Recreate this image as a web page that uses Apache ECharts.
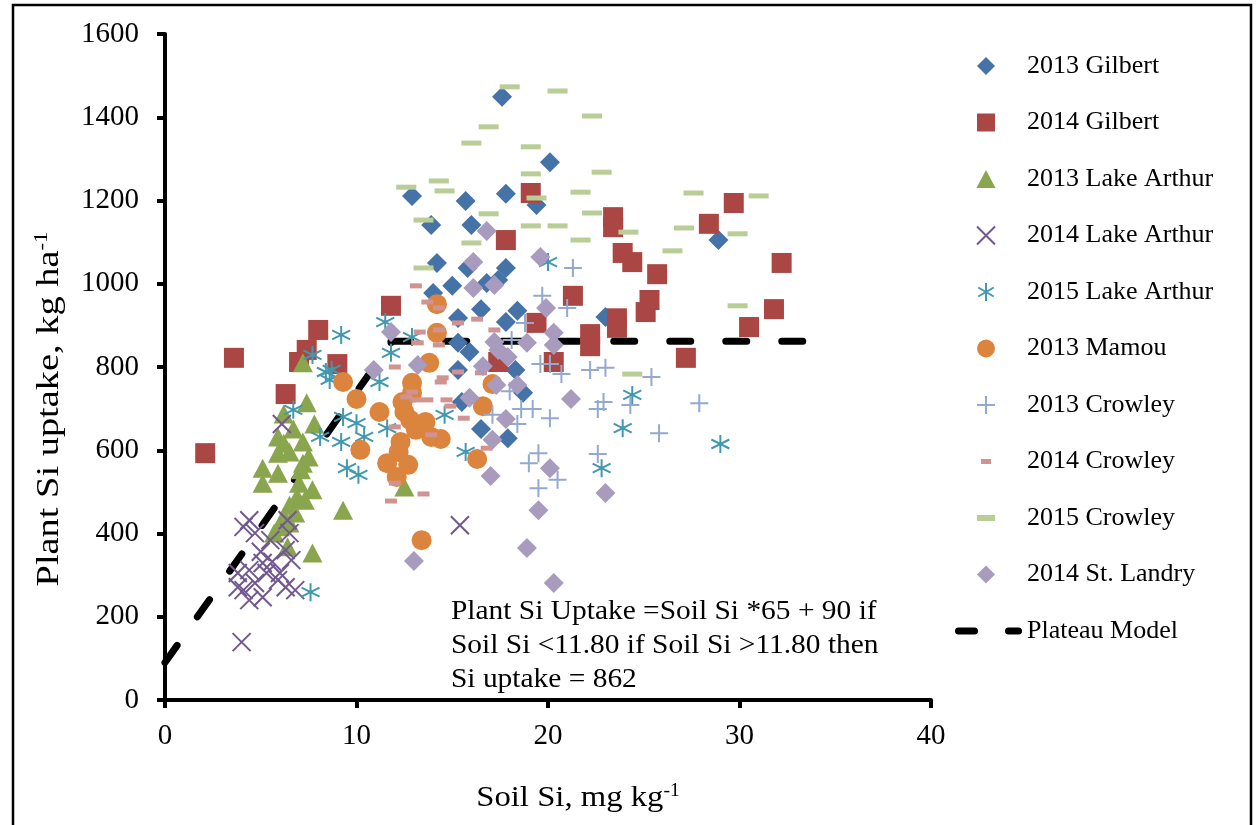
<!DOCTYPE html>
<html>
<head>
<meta charset="utf-8">
<script src="https://cdn.jsdelivr.net/npm/echarts@6/dist/echarts.min.js"></script>
<style>
  html, body { margin: 0; padding: 0; background: #fff; }
  #main { width: 1257px; height: 825px; }
</style>
</head>
<body>
<div id="main"></div>
<script>
// [soil Si (mg/kg), plant Si uptake (kg/ha)]
var gilbert2013 = [[17.6,1449],[20.1,1292],[12.9,1211],[15.7,1199],[17.8,1216],[19.4,1189],[13.9,1141],[16.0,1141],
  [14.2,1050],[15.8,1038],[17.8,1038],[15.0,995],[14.0,978],[16.8,1002],[17.4,1009],[16.5,939],[15.3,918],[17.8,908],
  [18.4,935],[15.3,858],[15.9,836],[15.3,793],[18.3,793],[18.7,738],[15.5,716],[16.5,651],[17.9,629],[23.0,920],[28.9,1105]];
var gilbert2014 = [[2.1,593],[3.6,822],[6.3,735],[7.0,812],[7.4,841],[8.0,889],[9.0,807],[11.8,947],[19.1,1218],
  [17.8,1105],[19.4,906],[21.3,971],[22.2,879],[22.2,850],[20.3,812],[17.4,812],[23.4,1160],[23.4,1136],[23.9,1074],
  [24.4,1052],[25.7,1023],[25.3,961],[25.1,932],[23.6,917],[23.6,894],[29.7,1194],[28.4,1144],[32.2,1050],[31.8,939],
  [30.5,896],[27.2,822]];
var lakeArthur2013 = [[7.2,810],[7.4,714],[6.2,687],[7.8,663],[6.7,651],[5.9,632],[6.2,617],[7.2,620],[5.9,593],
  [6.5,596],[7.2,569],[7.5,584],[5.1,557],[5.9,545],[5.1,521],[7.0,521],[7.7,505],[6.9,488],[7.3,480],[6.5,468],
  [6.2,440],[6.5,425],[6.0,416],[5.7,401],[6.4,368],[7.7,353],[9.3,456],[12.5,512],[7.1,553],[6.8,449]];
var lakeArthur2014 = [[6.1,663],[4.4,432],[4.1,416],[4.7,401],[6.4,432],[6.5,401],[5.5,384],[6.3,360],[5.0,356],
  [5.1,329],[3.8,305],[4.4,312],[5.3,305],[6.0,305],[3.8,271],[4.7,281],[6.3,271],[6.8,264],[5.1,247],[4.4,240],
  [4.1,264],[5.9,288],[5.6,332],[4.0,139],[15.4,420],[6.6,336]];
var lakeArthur2015 = [[9.2,877],[7.7,829],[8.4,788],[8.6,769],[6.7,697],[8.1,632],[9.3,680],[9.2,620],[10.0,665],
  [10.4,632],[9.5,557],[10.1,541],[7.6,259],[11.5,908],[11.8,834],[11.2,764],[12.9,872],[11.6,653],[14.6,685],
  [15.7,596],[20.0,1052],[24.4,733],[23.9,653],[22.8,557],[29.0,615],[8.7,793]];
var mamou2013 = [[14.2,951],[14.2,882],[13.8,810],[9.3,764],[10.0,723],[11.2,692],[12.9,762],[12.9,738],[12.4,716],
  [12.5,692],[13.6,668],[13.1,649],[13.9,632],[14.4,627],[12.3,620],[10.2,601],[12.2,596],[11.6,569],[12.7,565],
  [12.1,536],[16.3,579],[17.1,759],[16.6,706],[13.4,384],[12.8,673]];
var crowley2013 = [[21.3,1038],[19.7,971],[21.0,942],[18.8,906],[18.1,865],[19.6,807],[20.1,807],[20.7,783],
  [22.2,793],[23.0,798],[18.0,742],[17.1,685],[18.6,699],[19.2,699],[20.1,677],[18.4,663],[22.6,699],[19.5,593],
  [19.0,569],[20.5,529],[19.5,509],[22.6,591],[25.4,776],[24.3,709],[22.9,716],[27.9,713],[25.8,641]];
var crowley2014 = [[13.1,995],[13.7,956],[14.3,942],[16.3,915],[15.3,906],[17.2,889],[13.3,884],[14.3,889],
  [13.2,858],[14.3,853],[12.0,800],[14.5,774],[14.4,764],[12.9,740],[12.6,728],[13.1,721],[14.7,721],[14.9,706],
  [15.6,677],[12.0,656],[13.9,637],[16.8,605],[12.0,521],[11.8,478],[13.5,495],[16.5,786],[15.3,788],[13.7,721]];
var crowley2015 = [[18.0,1473],[20.5,1463],[22.3,1403],[16.9,1377],[16.0,1338],[19.1,1329],[22.8,1268],[19.1,1264],
  [12.6,1232],[14.3,1247],[14.6,1223],[19.4,1206],[21.7,1220],[16.9,1168],[22.3,1170],[13.5,1153],[19.1,1139],
  [20.5,1139],[24.2,1124],[16.0,1098],[21.7,1105],[13.5,1038],[27.6,1218],[31.0,1211],[27.1,1134],[29.9,1120],
  [26.5,1079],[29.9,947],[24.4,783]];
var stLandry2014 = [[16.8,1127],[19.6,1064],[16.1,1052],[16.1,990],[17.2,997],[19.9,942],[11.8,884],[10.9,793],
  [13.2,805],[15.9,726],[17.2,860],[18.9,858],[20.3,882],[20.3,853],[17.4,841],[17.9,824],[16.6,802],[17.3,757],
  [18.4,757],[17.8,675],[17.1,625],[17.0,538],[20.1,557],[21.2,723],[19.5,456],[23.0,497],[18.9,365],[20.3,281],[13.0,334]];
// plateau model: uptake = 65*Si + 90 below 11.80, 862 above
var plateauX = [0, 11.8, 11.8, 33.6];
var plateauY = [90, 857, 862, 862];

var xTicks = [0, 10, 20, 30, 40];
var yTicks = [0, 200, 400, 600, 800, 1000, 1200, 1400, 1600];

var FONT = '"Liberation Serif", "Times New Roman", serif';

var chart = echarts.init(document.getElementById('main'), null, { renderer: 'canvas' });

function pts(name, data, symbol, size, color, extra) {
  var s = {
    name: name,
    type: 'scatter',
    data: data,
    symbol: symbol,
    symbolSize: size,
    itemStyle: { color: color, opacity: 1 },
    emphasis: { disabled: true }
  };
  if (extra) s.itemStyle = Object.assign(s.itemStyle, extra);
  return s;
}

var xPath = 'path://M0,0L10,10M10,0L0,10';
var starPath = 'path://M5,0L5,10M0.7,2.5L9.3,7.5M0.7,7.5L9.3,2.5';
var plusPath = 'path://M5,0L5,10M0,5L10,5';

var series = [
  {
    name: 'Plateau Model',
    type: 'line',
    data: plateauX.map(function (x, i) { return [x, plateauY[i]]; }),
    symbol: 'none',
    showSymbol: false,
    lineStyle: { color: '#000', width: 7, type: [21, 35], cap: 'round', join: 'round' },
    itemStyle: { color: '#000' },
    emphasis: { disabled: true },
    z: 1
  },
  pts('2013 Gilbert', gilbert2013, 'diamond', 20, '#4572A7'),
  pts('2014 Gilbert', gilbert2014, 'rect', 20, '#AA4643'),
  pts('2013 Lake Arthur', lakeArthur2013, 'triangle', [20, 19], '#89A54E'),
  pts('2014 Lake Arthur', lakeArthur2014, xPath, 18, '#71588F', { borderColor: '#71588F', borderWidth: 2 }),
  pts('2015 Lake Arthur', lakeArthur2015, starPath, 18, '#4198AF', { borderColor: '#4198AF', borderWidth: 2 }),
  pts('2013 Mamou', mamou2013, 'circle', 20, '#DB843D'),
  pts('2013 Crowley', crowley2013, plusPath, 18, '#93A9CF', { borderColor: '#93A9CF', borderWidth: 2 }),
  pts('2014 Crowley', crowley2014, 'rect', [12, 5], '#D19392'),
  pts('2015 Crowley', crowley2015, 'rect', [20, 5], '#B9CD96'),
  pts('2014 St. Landry', stLandry2014, 'diamond', 20, '#A99BBD')
];

var legendNames = ['2013 Gilbert', '2014 Gilbert', '2013 Lake Arthur', '2014 Lake Arthur', '2015 Lake Arthur',
  '2013 Mamou', '2013 Crowley', '2014 Crowley', '2015 Crowley', '2014 St. Landry', 'Plateau Model'];
var legendIcons = {
  '2013 Gilbert': 'path://M9,0L18,9L9,18L0,9Z',
  '2014 Gilbert': 'path://M0,0h18v18h-18z',
  '2013 Lake Arthur': 'path://M9,0L18,17L0,17Z',
  '2013 Mamou': 'path://M0,9a9,9 0 1,0 18,0a9,9 0 1,0 -18,0z',
  '2014 Crowley': 'path://M0,0M18,18M4,6.5h10v5h-10z',
  '2015 Crowley': 'path://M0,0M18,18M0,6h18v6h-18z',
  '2014 St. Landry': 'path://M9,0L18,9L9,18L0,9Z',
  'Plateau Model': 'path://M0,0M72,18M8.5,5.5h16a3.5,3.5 0 0,1 0,7h-16a3.5,3.5 0 0,1 0,-7zM58.5,5.5h10a3.5,3.5 0 0,1 0,7h-10a3.5,3.5 0 0,1 0,-7z'
};

var option = {
  animation: false,
  textStyle: { fontFamily: FONT, color: '#000' },
  grid: { left: 165, right: 326, top: 34, bottom: 125, containLabel: false },
  xAxis: {
    type: 'value', min: xTicks[0], max: xTicks[xTicks.length - 1], interval: 10,
    axisLine: { lineStyle: { color: '#000', width: 4 } },
    axisTick: { show: true, length: 8, lineStyle: { color: '#000', width: 4 } },
    axisLabel: { fontSize: 29, fontFamily: FONT, color: '#000', margin: 22, formatter: function (v) { return String(v); } },
    splitLine: { show: false }
  },
  yAxis: {
    type: 'value', min: yTicks[0], max: yTicks[yTicks.length - 1], interval: 200,
    axisLine: { show: true, lineStyle: { color: '#000', width: 4 } },
    axisTick: { show: true, length: 8, lineStyle: { color: '#000', width: 4 } },
    axisLabel: { fontSize: 29, fontFamily: FONT, color: '#000', margin: 26, formatter: function (v) { return String(v); } },
    splitLine: { show: false }
  },
  legend: {
    orient: 'vertical',
    left: 945,
    top: 48,
    itemWidth: 72,
    itemHeight: 18,
    itemGap: 30.5,
    symbolKeepAspect: true,
    selectedMode: false,
    textStyle: { fontSize: 26, fontFamily: FONT, color: '#000', lineHeight: 26 },
    data: legendNames.map(function (n) {
      return legendIcons[n] ? { name: n, icon: legendIcons[n] } : { name: n };
    })
  },
  graphic: [
    { type: 'rect', shape: { x: 13, y: 5, width: 1238, height: 840 }, style: { fill: 'none', stroke: '#000', lineWidth: 2.5 }, silent: true },
    {
      type: 'text', x: 451, y: 646, scaleX: 1.09,
      style: {
        text: 'Plant Si Uptake =Soil Si *65 + 90 if\nSoil Si <11.80 if Soil Si >11.80 then\nSi uptake = 862',
        fontSize: 27, fontFamily: FONT, fill: '#000', lineHeight: 34, verticalAlign: 'middle', align: 'left'
      }
    },
    {
      type: 'text', x: 578, y: 798, scaleX: 1.09,
      style: {
        text: '{a|Soil Si, mg kg}{s|-1}', align: 'center', verticalAlign: 'middle',
        rich: {
          a: { fontSize: 30, fontFamily: FONT, fill: '#000', lineHeight: 32 },
          s: { fontSize: 18, fontFamily: FONT, fill: '#000', lineHeight: 18, verticalAlign: 'top' }
        }
      }
    },
    {
      type: 'text', x: 50, y: 409, rotation: Math.PI / 2, scaleX: 1.2,
      style: {
        text: '{a|Plant Si uptake, kg ha}{s|-1}', align: 'center', verticalAlign: 'middle',
        rich: {
          a: { fontSize: 32, fontFamily: FONT, fill: '#000', lineHeight: 34 },
          s: { fontSize: 19, fontFamily: FONT, fill: '#000', lineHeight: 19, verticalAlign: 'top' }
        }
      }
    }
  ],
  series: series
};

chart.setOption(option);
</script>
</body>
</html>
